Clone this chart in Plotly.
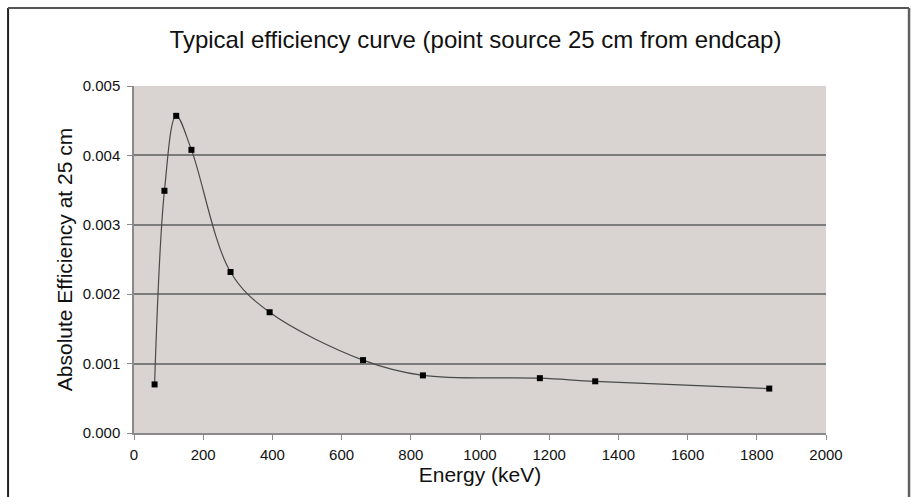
import plotly.graph_objects as go

# Data
energy_kev = [59.5, 88, 122, 166, 279, 392, 662, 835, 1173, 1333, 1836]
efficiency = [0.00070, 0.00349, 0.00457, 0.00408, 0.00232, 0.00174, 0.00105,
              0.00083, 0.00079, 0.000745, 0.00064]

x_ticks = [0, 200, 400, 600, 800, 1000, 1200, 1400, 1600, 1800, 2000]
y_ticks = [0.000, 0.001, 0.002, 0.003, 0.004, 0.005]
y_ticklabels = ["0.000", "0.001", "0.002", "0.003", "0.004", "0.005"]
grid_vals = [0.001, 0.002, 0.003, 0.004]

FONT = "Liberation Sans, Arial, Helvetica, sans-serif"

fig = go.Figure()
fig.add_trace(go.Scatter(
    x=energy_kev, y=efficiency, mode="lines",
    line=dict(shape="spline", smoothing=1.0, color="#4a4a4a", width=1.2),
    hoverinfo="skip", showlegend=False))
fig.add_trace(go.Scatter(
    x=energy_kev, y=efficiency, mode="markers",
    marker=dict(symbol="square", size=6, color="#000000"),
    showlegend=False))

fig.update_layout(
    width=911, height=497,
    margin=dict(l=134, r=85, t=86, b=64),
    paper_bgcolor="#ffffff",
    plot_bgcolor="#d9d4d1",
    font=dict(family=FONT, color="#111111"),
    title=dict(text="Typical efficiency curve (point source 25 cm from endcap)",
               x=0.4935, xref="paper", xanchor="center",
               y=1 - 40 / 497, yref="container", yanchor="middle",
               font=dict(size=24, family=FONT, color="#111111")),
    xaxis=dict(range=[0, 2000], tickvals=x_ticks,
               showgrid=False, zeroline=False,
               showline=True, linecolor="#8a8a8a", linewidth=1.5,
               ticks="outside", ticklen=5, tickcolor="#8a8a8a", tickwidth=1.2,
               ticklabelstandoff=2,
               tickfont=dict(size=15, family=FONT, color="#111111"),
               title=dict(text="Energy (keV)", standoff=4,
                          font=dict(size=21, family=FONT, color="#111111"))),
    yaxis=dict(range=[0, 0.005], tickvals=y_ticks, ticktext=y_ticklabels,
               showgrid=False, zeroline=False,
               showline=True, linecolor="#8a8a8a", linewidth=1.5,
               ticks="outside", ticklen=5, tickcolor="#8a8a8a", tickwidth=1.2,
               ticklabelstandoff=4,
               tickfont=dict(size=15, family=FONT, color="#111111"),
               minor=dict(tickvals=grid_vals, showgrid=True,
                          gridcolor="#7c7c7c", gridwidth=1.6, ticks=""),
               title=dict(text="Absolute Efficiency at 25 cm", standoff=4,
                          font=dict(size=21, family=FONT, color="#111111"))),
    shapes=[
        # outer frame
        dict(type="line", xref="paper", yref="paper",
             x0=-0.182, x1=-0.182, y0=-0.3, y1=1.2248,
             line=dict(color="#222222", width=2)),
        dict(type="line", xref="paper", yref="paper",
             x0=-0.182, x1=1.12, y0=1.2248, y1=1.2248,
             line=dict(color="#555555", width=2)),
        dict(type="line", xref="paper", yref="paper",
             x0=1.12, x1=1.12, y0=-0.3, y1=1.2248,
             line=dict(color="#606060", width=2.5)),
    ],
)

fig.write_html("out.html",
               config={"displayModeBar": False},
               post_script="document.body.style.margin='0';")
